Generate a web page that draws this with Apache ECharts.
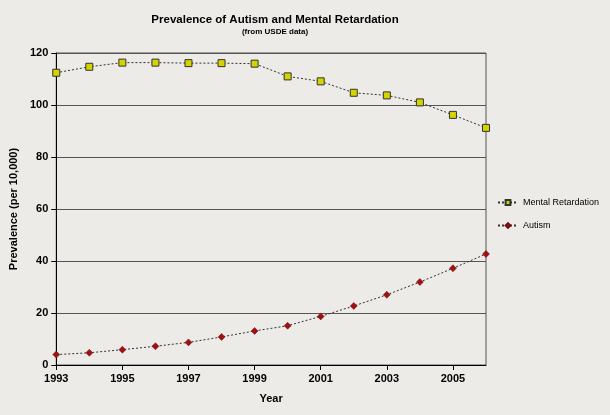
<!DOCTYPE html>
<html>
<head>
<meta charset="utf-8">
<script src="https://cdn.jsdelivr.net/npm/echarts@6/dist/echarts.min.js"></script>
<style>html,body{margin:0;padding:0;background:#edebe8;}#chart{width:610px;height:415px;}</style>
</head>
<body>
<div id="chart"></div>
<script>
var years = ['1993','1994','1995','1996','1997','1998','1999','2000','2001','2002','2003','2004','2005','2006'];
var mentalRetardation = [112.4, 114.7, 116.3, 116.3, 116.1, 116.1, 115.9, 111.0, 109.1, 104.7, 103.7, 101.0, 96.2, 91.2];
var autism = [4.0, 4.7, 5.9, 7.2, 8.7, 10.8, 13.1, 15.1, 18.7, 22.7, 27.0, 31.9, 37.2, 42.7];

var chart = echarts.init(document.getElementById('chart'));
var font = 'Liberation Sans, Arial, sans-serif';
chart.setOption({
  backgroundColor: '#edebe8',
  animation: false,
  title: {
    text: 'Prevalence of Autism and Mental Retardation',
    subtext: '(from USDE data)',
    left: 270, textAlign: 'center', top: 9, itemGap: 2,
    textStyle: { fontFamily: font, fontSize: 11.5, fontWeight: 'bold', color: '#000' },
    subtextStyle: { fontFamily: font, fontSize: 8, fontWeight: 'bold', color: '#000' }
  },
  grid: { left: 54, right: 124, top: 53, bottom: 50, show: true, borderColor: '#555', borderWidth: 1, backgroundColor: 'transparent' },
  legend: {
    orient: 'vertical', left: 492, top: 193, itemGap: 14,
    itemWidth: 20, itemHeight: 6,
    textStyle: { fontFamily: font, fontSize: 9, color: '#000' },
    data: ['Mental Retardation', 'Autism']
  },
  xAxis: {
    type: 'category', data: years, boundaryGap: false,
    name: 'Year', nameLocation: 'middle', nameGap: 28,
    nameTextStyle: { fontFamily: font, fontSize: 11, fontWeight: 'bold', color: '#000' },
    axisLine: { lineStyle: { color: '#000' } },
    axisTick: { alignWithLabel: true, lineStyle: { color: '#000' } },
    axisLabel: { interval: 1, fontFamily: font, fontSize: 11, fontWeight: 'bold', color: '#000' }
  },
  yAxis: {
    type: 'value', min: 0, max: 120, interval: 20,
    name: 'Prevalence (per 10,000)', nameLocation: 'middle', nameGap: 36,
    nameTextStyle: { fontFamily: font, fontSize: 11, fontWeight: 'bold', color: '#000' },
    axisLine: { show: true, lineStyle: { color: '#000' } },
    axisTick: { show: true, lineStyle: { color: '#000' } },
    axisLabel: { fontFamily: font, fontSize: 11, fontWeight: 'bold', color: '#000' },
    splitLine: { lineStyle: { color: '#555', width: 1 } }
  },
  series: [
    {
      name: 'Mental Retardation', type: 'line', data: mentalRetardation,
      symbol: 'rect', symbolSize: 7,
      lineStyle: { color: '#333', width: 1, type: [2, 2] },
      itemStyle: { color: '#d4d400', borderColor: '#333', borderWidth: 1 }
    },
    {
      name: 'Autism', type: 'line', data: autism,
      symbol: 'diamond', symbolSize: 7,
      lineStyle: { color: '#333', width: 1, type: [2, 2] },
      itemStyle: { color: '#a01010', borderColor: '#701010', borderWidth: 0.5 }
    }
  ]
});
</script>
</body>
</html>
